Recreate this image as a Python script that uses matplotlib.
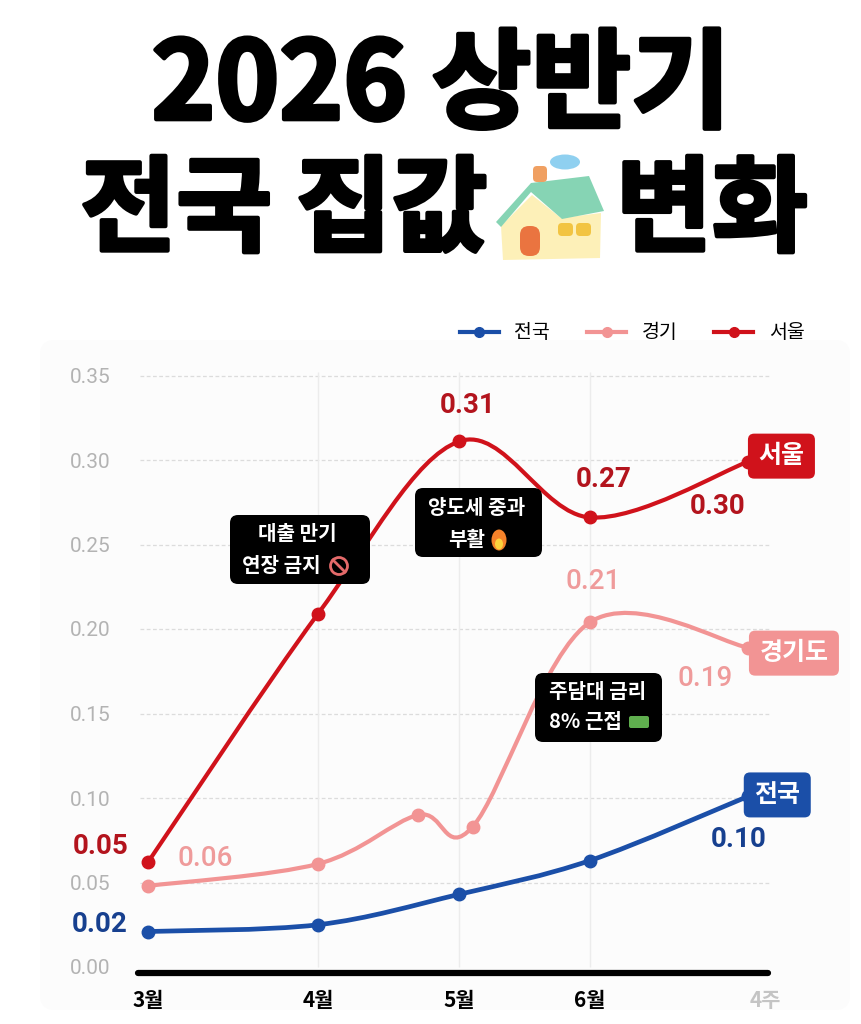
import numpy as np
import matplotlib
matplotlib.use("Agg")
import matplotlib.pyplot as plt
import matplotlib.patheffects as pe
from matplotlib.path import Path
from matplotlib.patches import PathPatch, FancyBboxPatch, Ellipse, Polygon, Circle
from matplotlib.lines import Line2D

plt.rcParams['font.family'] = ['Noto Sans CJK KR', 'DejaVu Sans']

# -------------------------------
# data
# -------------------------------
months = ["3월", "4월", "5월", "6월", "4주"]
month_x = [0.0, 1.0, 1.83, 2.6, 3.63]

seoul_x = [0.0, 1.0, 1.83, 2.6, 3.53]
seoul_y = [0.062, 0.209, 0.311, 0.266, 0.299]
seoul_labels = ["0.05", None, "0.31", "0.27", "0.30"]

gg_x = [0.0, 1.0, 1.59, 1.91, 2.6, 3.53]
gg_y = [0.048, 0.061, 0.090, 0.083, 0.204, 0.189]
gg_labels = ["0.06", None, None, None, "0.21", "0.19"]

nat_x = [0.0, 1.0, 1.83, 2.6, 3.53]
nat_y = [0.021, 0.025, 0.043, 0.063, 0.101]
nat_labels = ["0.02", None, None, None, "0.10"]

yticks = [0.00, 0.05, 0.10, 0.15, 0.20, 0.25, 0.30, 0.35]

RED = "#d0121b"
RED_TXT = "#b3141d"
PINK = "#f29494"
PINK_TXT = "#ef9b9b"
BLUE = "#1b4fa8"
BLUE_TXT = "#17408f"


def smooth_path(xs, ys):
    # catmull-rom through the points, drawn as cubic bezier pieces
    pts = np.column_stack([xs, ys])
    verts = [pts[0]]
    codes = [Path.MOVETO]
    n = len(pts)
    for i in range(n - 1):
        p0 = pts[i - 1] if i > 0 else pts[i]
        p1, p2 = pts[i], pts[i + 1]
        p3 = pts[i + 2] if i + 2 < n else pts[i + 1]
        verts += [p1 + (p2 - p0) / 6, p2 - (p3 - p1) / 6, p2]
        codes += [Path.CURVE4] * 3
    return Path(verts, codes)


fig = plt.figure(figsize=(8.61, 10.24), dpi=100)
inch = fig.dpi_scale_trans


def px(x, y):
    # picture pixels -> inches from bottom-left
    return (x / 100, (1024 - y) / 100)


# faint panel behind the chart
fig.patches.append(FancyBboxPatch(px(40, 1010), 8.1, 6.7, boxstyle="round,pad=0,rounding_size=0.15",
                                  transform=inch, fc="#fcfcfc", ec="none", zorder=-5))

# -------------------------------
# title
# -------------------------------
bold_fx = [pe.withStroke(linewidth=3, foreground="black")]
fig.text(*px(441, 88), "2026 상반기", transform=inch, ha="center", va="center",
         fontsize=78, fontweight="black", color="black", path_effects=bold_fx)
fig.text(*px(284, 212), "전국 집값", transform=inch, ha="center", va="center",
         fontsize=75, fontweight="black", color="black", path_effects=bold_fx)
fig.text(*px(712, 212), "변화", transform=inch, ha="center", va="center",
         fontsize=75, fontweight="black", color="black", path_effects=bold_fx)

# little house between the words
house = [
    ([(501, 226), (532, 195), (561, 218), (601, 213), (600, 258), (503, 260)], "#fdf0b8"),
    ([(496, 222), (531, 183), (589, 176), (604, 211), (562, 219), (531, 192), (501, 227)], "#86d4b4"),
]
for poly, col in house:
    fig.patches.append(Polygon([px(*p) for p in poly], closed=True, transform=inch, fc=col, ec="none"))
fig.patches.append(FancyBboxPatch(px(533, 182), 0.14, 0.16, boxstyle="round,pad=0,rounding_size=0.04",
                                  transform=inch, fc="#f0a062", ec="none"))
fig.patches.append(Ellipse(px(565, 162), 0.30, 0.15, transform=inch, fc="#8fd0f0", ec="none"))
fig.patches.append(FancyBboxPatch(px(520, 256), 0.20, 0.30, boxstyle="round,pad=0,rounding_size=0.09",
                                  transform=inch, fc="#ea7440", ec="none"))
for wx in (558, 576):
    fig.patches.append(FancyBboxPatch(px(wx, 236), 0.15, 0.13, boxstyle="round,pad=0,rounding_size=0.04",
                                      transform=inch, fc="#f2c442", ec="none"))

# -------------------------------
# chart
# -------------------------------
ax = fig.add_axes([130 / 861, 1 - 980 / 1024, 660 / 861, 620 / 1024])
ax.set_facecolor("none")
ax.set_xlim((130 - 148) / 170, (790 - 148) / 170)
ax.set_ylim((967 - 980) / 1690, (967 - 360) / 1690)
for s in ax.spines.values():
    s.set_visible(False)

ax.hlines(yticks[1:], -0.047, 3.66, colors="#dcdcdc", linestyles=(0, (3, 2)), lw=0.9, zorder=1)
ax.vlines(month_x[1:4], 0, 0.352, colors="#ececec", lw=1, zorder=1)
ax.axhline(-0.0036, 0.012, 0.967, color="black", lw=4.5, solid_capstyle="round", zorder=2)

ax.set_yticks(yticks)
ax.set_yticklabels([f"{v:.2f}" for v in yticks], family="Roboto", fontweight="normal",
                   fontsize=15, color="#b3b3b3")
ax.set_xticks(month_x)
ax.set_xticklabels(months, fontsize=15, fontweight="bold")
for lab in ax.get_xticklabels()[-1:]:
    lab.set_color("#c4c4c4")
ax.tick_params(axis="y", length=0, pad=14)
ax.tick_params(axis="x", length=0, pad=7)

series = [
    (seoul_x, seoul_y, RED, 3.0),
    (gg_x, gg_y, PINK, 3.0),
    (nat_x, nat_y, BLUE, 3.4),
]
for xs, ys, col, lw in series:
    ax.add_patch(PathPatch(smooth_path(xs, ys), fill=False, ec=col, lw=lw, capstyle="round", zorder=3))
    ax.plot(xs, ys, "o", color=col, ms=9, zorder=4)

# value labels (offsets in points from each point)
lab_sets = [
    (seoul_x, seoul_y, seoul_labels, RED_TXT, "bold",
     [(-34, 11), None, (6, 26), (10, 27), (-22, -32)]),
    (gg_x, gg_y, gg_labels, PINK_TXT, "medium",
     [(41, 20), None, None, None, (2, 29), (-31, -22)]),
    (nat_x, nat_y, nat_labels, BLUE_TXT, "bold",
     [(-35, 5), None, None, None, (-7, -31)]),
]
for xs, ys, labs, col, w, offs in lab_sets:
    for x, y, lab, off in zip(xs, ys, labs, offs):
        if lab is None:
            continue
        ax.annotate(lab, (x, y), xytext=off, textcoords="offset points", ha="center", va="center",
                    fontsize=20, fontweight=w, family="Roboto", color=col, zorder=5)

# name tags at the line ends
tags = [
    (seoul_x[-1], seoul_y[-1], "서울", RED, (24, 4)),
    (gg_x[-1], gg_y[-1], "경기도", PINK, (33, -4)),
    (nat_x[-1], nat_y[-1], "전국", BLUE, (21, 1)),
]
for x, y, name, col, off in tags:
    ax.annotate(name, (x, y), xytext=off, textcoords="offset points", ha="center", va="center",
                fontsize=18, fontweight="bold", color="white", zorder=6,
                bbox=dict(boxstyle="round,pad=0.42,rounding_size=0.25", fc=col, ec="none"),
                annotation_clip=False)

# black event notes
notes = [
    ((230, 515, 370, 584), ["대출 만기", "연장 금지"], [(297, 534), (281, 566)]),
    ((415, 488, 542, 557), ["양도세 중과", "부활"], [(477, 507), (467, 539)]),
    ((535, 673, 662, 742), ["주담대 금리", "8% 근접"], [(598, 692), (585, 722)]),
]
for (x0, y0, x1, y1), lines, pos in notes:
    fig.patches.append(FancyBboxPatch(px(x0, y1), (x1 - x0) / 100, (y1 - y0) / 100,
                                      boxstyle="round,pad=0,rounding_size=0.08",
                                      transform=inch, fc="black", ec="none", zorder=7))
    for t, p in zip(lines, pos):
        fig.text(*px(*p), t, transform=inch, ha="center", va="center", fontsize=14.5,
                 fontweight="bold", color="white", zorder=8)

# stand-ins for the emoji
fig.patches.append(Circle(px(339, 566), 0.085, transform=inch, fc="none", ec="#e46a6a", lw=2, zorder=8))
fig.lines.append(Line2D([3.39 - 0.06, 3.39 + 0.06], [(1024 - 566) / 100 + 0.06, (1024 - 566) / 100 - 0.06],
                        transform=inch, color="#e46a6a", lw=2, zorder=8))
fig.patches.append(Ellipse(px(499, 540), 0.15, 0.21, transform=inch, fc="#f5822a", ec="none", zorder=8))
fig.patches.append(Ellipse(px(499, 544), 0.08, 0.11, transform=inch, fc="#fcd23c", ec="none", zorder=9))
fig.patches.append(FancyBboxPatch(px(629, 728), 0.2, 0.12, boxstyle="round,pad=0,rounding_size=0.02",
                                  transform=inch, fc="#5fae4e", ec="none", zorder=8))

# legend
handles = [Line2D([], [], color=c, lw=3, marker="o", ms=7) for c in (BLUE, PINK, RED)]
fig.legend(handles, ["전국", "경기", "서울"], loc="center right", bbox_to_anchor=(822 / 861, 1 - 333 / 1024),
           ncol=3, frameon=False, fontsize=14, handlelength=2.0, columnspacing=1.9, handletextpad=0.8)

plt.savefig("out.png", dpi=100)
